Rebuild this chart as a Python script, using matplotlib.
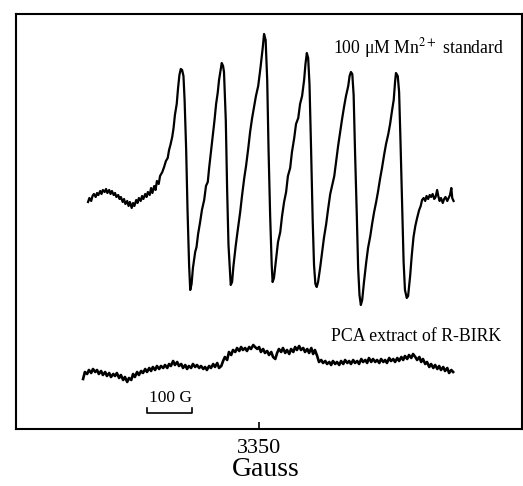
import numpy as np
import matplotlib.pyplot as plt

plt.rcParams['font.family'] = ['Liberation Serif', 'DejaVu Serif']
plt.rcParams['mathtext.fontset'] = 'stix'

# --- Mn2+ standard trace (field in G, signal in a.u.) ---
std_field = [
    2970, 2973, 2977, 2980, 2983, 2987, 2990, 2993, 2997, 3000,
    3003, 3007, 3010, 3013, 3017, 3020, 3023, 3027, 3030, 3033,
    3037, 3040, 3043, 3047, 3050, 3053, 3057, 3060, 3063, 3067,
    3070, 3073, 3077, 3080, 3083, 3087, 3090, 3093, 3097, 3100,
    3103, 3107, 3110, 3113, 3117, 3120, 3123, 3127, 3130,
    3135, 3139, 3143, 3147, 3150, 3153, 3157, 3160, 3163, 3167,
    3170, 3173, 3176, 3179, 3182, 3184.5, 3188, 3191, 3194.5, 3197,
    3200, 3203, 3208, 3211, 3214.5, 3219, 3223, 3228, 3232, 3236,
    3239, 3243, 3248, 3251, 3254.5, 3258, 3261, 3264.5, 3267, 3270,
    3272, 3276, 3279, 3282, 3286, 3287, 3290, 3293, 3298, 3302,
    3308, 3312, 3317, 3321, 3326, 3330, 3334.5, 3339, 3343, 3348,
    3353, 3358, 3361, 3364.5, 3368, 3371, 3374.5, 3378, 3380, 3383,
    3388, 3392, 3397, 3401, 3405.5, 3410, 3414, 3419, 3423, 3428,
    3432, 3437, 3441, 3445.5, 3450, 3453, 3456, 3459, 3462, 3465.5,
    3469, 3472, 3475, 3478, 3481, 3485.5, 3490, 3494, 3499, 3503,
    3508, 3512, 3517, 3521, 3525.5, 3530, 3534, 3539, 3543, 3548,
    3551, 3554, 3557, 3560, 3563, 3567, 3570, 3573, 3576, 3579,
    3583, 3588, 3592, 3597, 3601, 3605.5, 3610, 3614, 3619, 3623,
    3628, 3632, 3637, 3641, 3645.5, 3649, 3652, 3654, 3658, 3661,
    3664, 3668, 3671, 3674, 3678, 3681, 3685.5, 3689, 3693, 3697,
    3701, 3705.5, 3709, 3712, 3715.5, 3719, 3722, 3725.5, 3729, 3732,
    3735.5, 3739, 3742, 3745.5, 3748, 3751, 3754, 3758, 3761, 3764,
    3768, 3771, 3774, 3777, 3779, 3782,
]
std_signal = [
    -5, -1, -4, 1, 3, 0, 4, 2, 6, 3,
    7, 5, 8, 4, 7, 3, 6, 2, 4, 0,
    2, -2, 0, -5, -2, -7, -4, -9, -5, -11,
    -6, -9, -3, -6, -1, -4, 1, -2, 3, 0,
    5, 2, 9, 4, 11, 7, 16, 13, 21,
    25, 30, 36, 39, 47, 52, 60, 69, 82, 93,
    109, 122, 128, 127, 121, 97, 47, -13, -68, -93,
    -87, -71, -55, -50, -37, -25, -13, -3, 11, 15,
    29, 45, 65, 77, 93, 104, 117, 127, 134, 131,
    125, 77, 7, -48, -81, -88, -85, -69, -49, -35,
    -15, 1, 19, 31, 49, 65, 79, 91, 101, 111,
    129, 149, 163, 157, 117, 47, -18, -68, -85, -81,
    -61, -45, -35, -19, -5, 5, 21, 29, 45, 59,
    73, 79, 93, 101, 117, 133, 144, 139, 112, 47,
    -23, -68, -87, -90, -85, -71, -55, -41, -27, -13,
    3, 11, 21, 35, 51, 65, 77, 91, 101, 111,
    121, 125, 123, 102, 47, -18, -71, -98, -108, -103,
    -85, -65, -51, -39, -27, -15, -5, 5, 19, 29,
    43, 53, 63, 73, 87, 97, 115, 124, 121, 105,
    57, -13, -65, -93, -101, -99, -79, -59, -40, -29,
    -21, -13, -9, -3, -1, -4, 1, -2, 2, 0,
    3, -2, 0, 7, 1, -4, -1, -6, -2, 0,
    -4, -1, 2, 9, -1, -4,
]

# --- PCA extract of R-BIRK trace ---
pca_field = [
    2959, 2963, 2968, 2972, 2977, 2981, 2986, 2990, 2994,
    2999, 3003, 3008, 3012, 3017, 3021, 3026, 3030, 3034,
    3039, 3043, 3048, 3052, 3057, 3061, 3066, 3070, 3074,
    3079, 3083, 3088, 3092, 3097, 3101, 3106, 3110, 3114,
    3119, 3123, 3128, 3132, 3137, 3141, 3146, 3150, 3154,
    3159, 3163, 3168, 3172, 3177, 3181, 3186, 3190, 3194,
    3199, 3203, 3208, 3212, 3217, 3221, 3226, 3230, 3234,
    3239, 3243, 3248, 3252, 3257, 3261, 3266, 3270, 3274,
    3279, 3283, 3288, 3292, 3297, 3301, 3306, 3310, 3314,
    3319, 3323, 3328, 3332, 3337, 3341, 3346, 3350, 3354,
    3359, 3363, 3368, 3372, 3377, 3381, 3386, 3390, 3394,
    3399, 3403, 3408, 3412, 3417, 3421, 3426, 3430, 3434,
    3439, 3443, 3448, 3452, 3457, 3461, 3466, 3470, 3474,
    3479, 3483, 3488, 3492, 3497, 3501, 3506, 3510, 3514,
    3519, 3523, 3528, 3532, 3537, 3541, 3546, 3550, 3554,
    3559, 3563, 3568, 3572, 3577, 3581, 3586, 3590, 3594,
    3599, 3603, 3608, 3612, 3617, 3621, 3626, 3630, 3634,
    3639, 3643, 3648, 3652, 3657, 3661, 3666, 3670, 3674,
    3679, 3683, 3688, 3692, 3697, 3701, 3706, 3710, 3714,
    3719, 3723, 3728, 3732, 3737, 3741, 3746, 3750, 3754,
    3759, 3763, 3768, 3772, 3777, 3781,
]
pca_signal = [
    -4, 3, 1, 5, 2, 6, 3, 5, 1, 4,
    0, 3, -1, 2, -2, 1, -1, 2, -3, 0,
    -5, -2, -7, -3, -5, 1, -2, 3, 0, 4,
    2, 6, 3, 7, 4, 8, 5, 9, 6, 9,
    7, 10, 7, 11, 9, 14, 10, 13, 9, 11,
    7, 10, 6, 9, 7, 11, 8, 10, 7, 9,
    6, 8, 5, 9, 7, 11, 8, 12, 7, 9,
    14, 18, 15, 23, 20, 25, 23, 27, 24, 28,
    25, 27, 24, 28, 26, 30, 28, 26, 28, 23,
    26, 22, 24, 20, 23, 18, 16, 22, 26, 23,
    27, 22, 25, 21, 26, 23, 28, 25, 29, 25,
    27, 23, 26, 22, 27, 21, 25, 19, 13, 15,
    12, 14, 11, 13, 10, 14, 11, 13, 10, 14,
    11, 15, 12, 14, 11, 15, 12, 14, 11, 16,
    13, 15, 12, 17, 13, 16, 13, 15, 12, 16,
    13, 15, 12, 17, 14, 16, 13, 17, 14, 18,
    15, 19, 16, 20, 17, 21, 18, 15, 18, 13,
    16, 11, 13, 8, 11, 7, 10, 6, 9, 5,
    8, 4, 7, 2, 5, 3,
]

xticks = [3350]
xticklabels = ['3350']

# vertical offsets of the two traces (a.u.)
std_offset = 232
pca_offset = 54

fig = plt.figure(figsize=(5.23, 4.86), dpi=100)
ax = fig.add_axes([0.0306, 0.1173, 0.9675, 0.8539])

ax.plot(std_field, np.array(std_signal) + std_offset, color='black', lw=1.6)
ax.plot(pca_field, np.array(pca_signal) + pca_offset, color='black', lw=1.9)

ax.text(3514, 381, '100 μM Mn$^{2+}$ standard', fontsize=12.8, va='center', ha='left')
ax.text(3509, 92, 'PCA extract of R-BIRK', fontsize=12.8, va='center', ha='left')

# 100 G scale bar
ax.plot([3101, 3101, 3201, 3201], [21, 16, 16, 21], color='black', lw=1.2)
ax.text(3152, 31, '100 G', fontsize=12.5, va='center', ha='center')

ax.set_xlim(2810, 3934)
ax.set_ylim(0, 415)
ax.set_xticks(xticks)
ax.set_xticklabels(xticklabels, fontsize=16)
ax.set_yticks([])
ax.tick_params(axis='x', direction='in', length=5, width=1.2, pad=7)
for s in ax.spines.values():
    s.set_linewidth(1.5)

# axis title sits low, close to the bottom edge
fig.text(0.509, 0.02, 'Gauss', fontsize=20, ha='center', va='baseline')

fig.savefig('out.png', dpi=100)
